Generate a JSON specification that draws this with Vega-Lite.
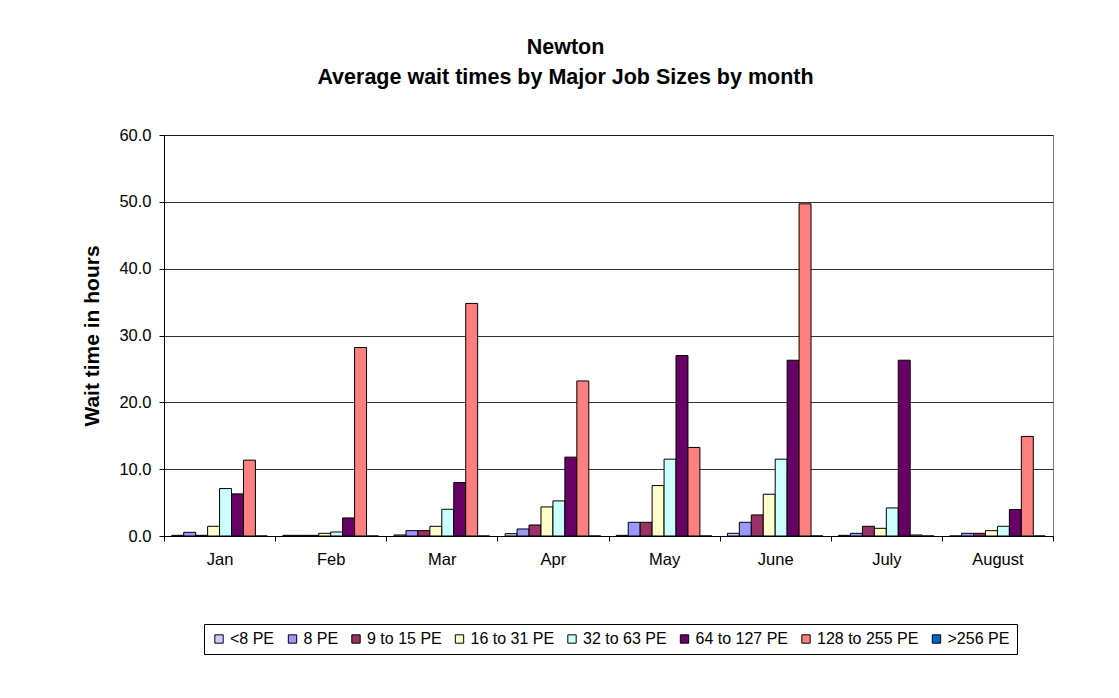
{
  "$schema": "https://vega.github.io/schema/vega-lite/v6.json",
  "width": 889,
  "height": 401,
  "autosize": {"type": "none"},
  "padding": {"left": 164, "top": 135, "right": 66, "bottom": 162},
  "background": "white",
  "title": {
    "text": ["Newton", "Average wait times by Major Job Sizes by month"],
    "font": "Liberation Sans",
    "fontSize": 21.5,
    "fontWeight": "bold",
    "color": "black",
    "lineHeight": 30,
    "anchor": "middle",
    "dx": -43,
    "offset": 39
  },
  "config": {
    "font": "Liberation Sans",
    "view": {"stroke": "#808080", "strokeWidth": 1}
  },
  "data": {
    "values": [
      {"month": "Jan", "size": "<8 PE", "hours": 0.1},
      {"month": "Jan", "size": "8 PE", "hours": 0.55},
      {"month": "Jan", "size": "9 to 15 PE", "hours": 0.1},
      {"month": "Jan", "size": "16 to 31 PE", "hours": 1.45},
      {"month": "Jan", "size": "32 to 63 PE", "hours": 7.1},
      {"month": "Jan", "size": "64 to 127 PE", "hours": 6.3},
      {"month": "Jan", "size": "128 to 255 PE", "hours": 11.35},
      {"month": "Jan", "size": ">256 PE", "hours": 0},
      {"month": "Feb", "size": "<8 PE", "hours": 0.1},
      {"month": "Feb", "size": "8 PE", "hours": 0.1},
      {"month": "Feb", "size": "9 to 15 PE", "hours": 0.1},
      {"month": "Feb", "size": "16 to 31 PE", "hours": 0.4},
      {"month": "Feb", "size": "32 to 63 PE", "hours": 0.6},
      {"month": "Feb", "size": "64 to 127 PE", "hours": 2.7},
      {"month": "Feb", "size": "128 to 255 PE", "hours": 28.2},
      {"month": "Feb", "size": ">256 PE", "hours": 0},
      {"month": "Mar", "size": "<8 PE", "hours": 0.15},
      {"month": "Mar", "size": "8 PE", "hours": 0.8},
      {"month": "Mar", "size": "9 to 15 PE", "hours": 0.8},
      {"month": "Mar", "size": "16 to 31 PE", "hours": 1.45},
      {"month": "Mar", "size": "32 to 63 PE", "hours": 4.0},
      {"month": "Mar", "size": "64 to 127 PE", "hours": 8.0},
      {"month": "Mar", "size": "128 to 255 PE", "hours": 34.8},
      {"month": "Mar", "size": ">256 PE", "hours": 0},
      {"month": "Apr", "size": "<8 PE", "hours": 0.35},
      {"month": "Apr", "size": "8 PE", "hours": 1.05},
      {"month": "Apr", "size": "9 to 15 PE", "hours": 1.65},
      {"month": "Apr", "size": "16 to 31 PE", "hours": 4.35},
      {"month": "Apr", "size": "32 to 63 PE", "hours": 5.25},
      {"month": "Apr", "size": "64 to 127 PE", "hours": 11.8},
      {"month": "Apr", "size": "128 to 255 PE", "hours": 23.2},
      {"month": "Apr", "size": ">256 PE", "hours": 0},
      {"month": "May", "size": "<8 PE", "hours": 0.1},
      {"month": "May", "size": "8 PE", "hours": 2.05},
      {"month": "May", "size": "9 to 15 PE", "hours": 2.05},
      {"month": "May", "size": "16 to 31 PE", "hours": 7.55},
      {"month": "May", "size": "32 to 63 PE", "hours": 11.5},
      {"month": "May", "size": "64 to 127 PE", "hours": 27.0},
      {"month": "May", "size": "128 to 255 PE", "hours": 13.25},
      {"month": "May", "size": ">256 PE", "hours": 0},
      {"month": "June", "size": "<8 PE", "hours": 0.4},
      {"month": "June", "size": "8 PE", "hours": 2.05},
      {"month": "June", "size": "9 to 15 PE", "hours": 3.15},
      {"month": "June", "size": "16 to 31 PE", "hours": 6.25},
      {"month": "June", "size": "32 to 63 PE", "hours": 11.5},
      {"month": "June", "size": "64 to 127 PE", "hours": 26.3},
      {"month": "June", "size": "128 to 255 PE", "hours": 49.7},
      {"month": "June", "size": ">256 PE", "hours": 0},
      {"month": "July", "size": "<8 PE", "hours": 0.1},
      {"month": "July", "size": "8 PE", "hours": 0.4},
      {"month": "July", "size": "9 to 15 PE", "hours": 1.45},
      {"month": "July", "size": "16 to 31 PE", "hours": 1.15},
      {"month": "July", "size": "32 to 63 PE", "hours": 4.2},
      {"month": "July", "size": "64 to 127 PE", "hours": 26.3},
      {"month": "July", "size": "128 to 255 PE", "hours": 0.15},
      {"month": "July", "size": ">256 PE", "hours": 0},
      {"month": "August", "size": "<8 PE", "hours": 0},
      {"month": "August", "size": "8 PE", "hours": 0.4},
      {"month": "August", "size": "9 to 15 PE", "hours": 0.4},
      {"month": "August", "size": "16 to 31 PE", "hours": 0.8},
      {"month": "August", "size": "32 to 63 PE", "hours": 1.45},
      {"month": "August", "size": "64 to 127 PE", "hours": 3.95},
      {"month": "August", "size": "128 to 255 PE", "hours": 14.9},
      {"month": "August", "size": ">256 PE", "hours": 0}
    ]
  },
  "mark": {"type": "bar", "stroke": "black", "strokeWidth": 1},
  "encoding": {
    "x": {
      "field": "month",
      "type": "nominal",
      "sort": ["Jan", "Feb", "Mar", "Apr", "May", "June", "July", "August"],
      "scale": {"paddingInner": 0, "paddingOuter": 0},
      "axis": {
        "title": null,
        "labelAngle": 0,
        "labelFontSize": 16.5,
        "labelColor": "black",
        "labelPadding": 10,
        "tickBand": "extent",
        "tickSize": 5,
        "tickColor": "black",
        "domainColor": "black",
        "grid": false
      }
    },
    "xOffset": {
      "field": "size",
      "type": "nominal",
      "sort": ["<8 PE", "8 PE", "9 to 15 PE", "16 to 31 PE", "32 to 63 PE", "64 to 127 PE", "128 to 255 PE", ">256 PE"],
      "scale": {"paddingInner": 0, "paddingOuter": 0.65}
    },
    "y": {
      "field": "hours",
      "type": "quantitative",
      "scale": {"domain": [0, 60], "nice": false},
      "axis": {
        "title": "Wait time in hours",
        "titleFontSize": 21,
        "titleFontWeight": "bold",
        "titleColor": "black",
        "titlePadding": 16,
        "values": [0, 10, 20, 30, 40, 50, 60],
        "format": ".1f",
        "labelFontSize": 16.5,
        "labelColor": "black",
        "labelPadding": 8,
        "tickSize": 5,
        "tickColor": "black",
        "domainColor": "black",
        "gridColor": "black",
        "gridOpacity": 0.8
      }
    },
    "color": {
      "field": "size",
      "type": "nominal",
      "sort": ["<8 PE", "8 PE", "9 to 15 PE", "16 to 31 PE", "32 to 63 PE", "64 to 127 PE", "128 to 255 PE", ">256 PE"],
      "scale": {
        "domain": ["<8 PE", "8 PE", "9 to 15 PE", "16 to 31 PE", "32 to 63 PE", "64 to 127 PE", "128 to 255 PE", ">256 PE"],
        "range": ["#CCCCFF", "#9999FF", "#993366", "#FFFFCC", "#CCFFFF", "#660066", "#FF8080", "#0066CC"]
      },
      "legend": {
        "title": null,
        "orient": "none",
        "direction": "horizontal",
        "legendX": 40,
        "legendY": 489,
        "symbolType": "square",
        "symbolSize": 70,
        "symbolStrokeColor": "black",
        "symbolStrokeWidth": 1,
        "labelFontSize": 16,
        "labelColor": "black",
        "labelOffset": 3,
        "columnPadding": 9.5,
        "padding": 7,
        "strokeColor": "black",
        "fillColor": "white"
      }
    }
  }
}
